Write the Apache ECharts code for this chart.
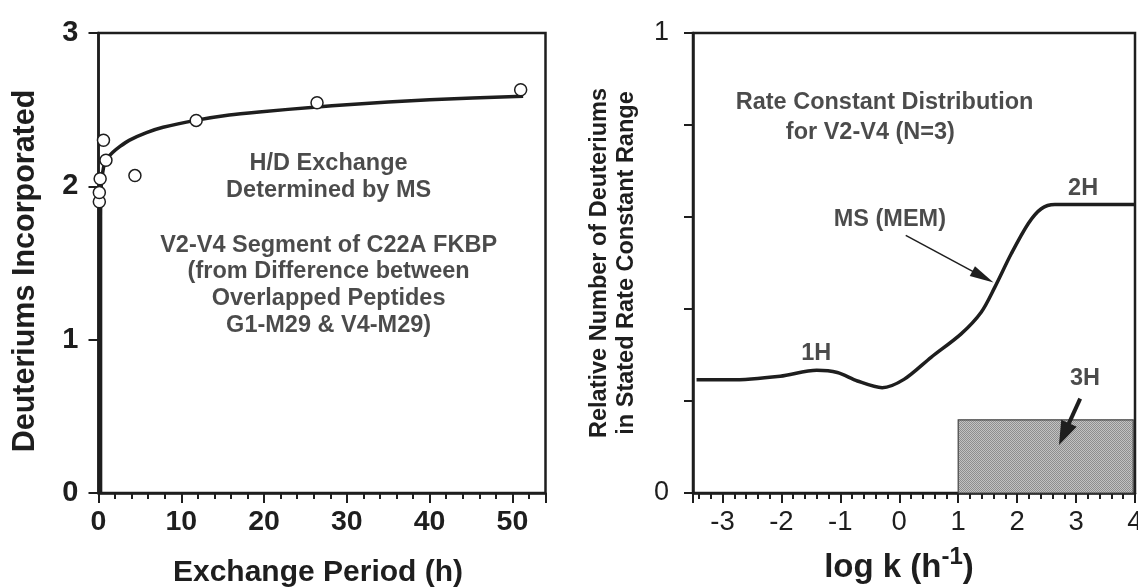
<!DOCTYPE html>
<html>
<head>
<meta charset="utf-8">
<title>H/D exchange of V2-V4 segment</title>
<script src="https://cdn.jsdelivr.net/npm/echarts@6/dist/echarts.min.js"></script>
<style>
  html, body { margin: 0; padding: 0; background: #fff; }
  #main { width: 1138px; height: 587px; }
</style>
</head>
<body>
<div id="main"></div>
<script>
// ---- left panel: deuteriums incorporated vs exchange period ----
const exchangeHours = [0.1, 0.1, 0.2, 0.9, 0.6, 4.4, 11.8, 26.4, 51.0];
const deuteriumsFound = [1.90, 1.96, 2.05, 2.17, 2.30, 2.07, 2.43, 2.545, 2.63];
const fitHours = [0.25, 0.25, 0.35, 0.6, 0.9, 1.7, 2.6, 3.7, 5.8, 7.8, 11.7, 15.8, 19.4, 26.4, 30, 40, 51.3];
const fitDeuteriums = [0, 1.8, 2.02, 2.12, 2.17, 2.22, 2.26, 2.30, 2.35, 2.385, 2.43, 2.465, 2.485, 2.518, 2.532, 2.565, 2.588];
const leftXTicks = [0, 10, 20, 30, 40, 50];
const leftYTicks = [0, 1, 2, 3];

// ---- right panel: rate constant distribution (MEM) ----
const logK = [-3.44, -2.87, -2.02, -1.40, -1.05, -0.71, -0.29, 0.08, 0.54, 1.05, 1.39, 1.62, 1.90, 2.19, 2.41, 2.64, 3.2, 4.0];
const relDeuteriums = [0.246, 0.246, 0.254, 0.267, 0.262, 0.2435, 0.229, 0.247, 0.295, 0.346, 0.393, 0.447, 0.520, 0.586, 0.618, 0.627, 0.627, 0.627];
const block3H = [1.0, 3.97, 0.159];   // [log k from, log k to, height]
const rightXTicks = [-3, -2, -1, 0, 1, 2, 3, 4];
const rightYTicks = [0, 1];

// annotations (data coordinates)
const leftNotes = [
  [27.8, 2.06, 'H/D Exchange\nDetermined by MS'],
  [27.8, 1.356, 'V2-V4 Segment of C22A FKBP\n(from Difference between\nOverlapped Peptides\nG1-M29 & V4-M29)']
];
const rightNotes = [
  [-0.25, 0.848, 'Rate Constant Distribution'],
  [-0.49, 0.783, 'for V2-V4 (N=3)'],
  [-0.16, 0.594, 'MS (MEM)'],
  [3.12, 0.662, '2H'],
  [-1.41, 0.303, '1H'],
  [3.15, 0.248, '3H']
];
// arrow ends are the centres of the arrow heads
const arrowMS = [[0.11, 0.56], [1.42, 0.470]];
const arrow3H = [[3.07, 0.205], [2.795, 0.128]];

const ink = '#1e1e1e';
const font = "'Liberation Sans', Arial, Helvetica, sans-serif";

const chart = echarts.init(document.getElementById('main'), null, { renderer: 'canvas' });

// fine dithered grey, like the printed shading of the 3H block
function shadePattern() {
  const c = document.createElement('canvas');
  c.width = 2; c.height = 2;
  const g = c.getContext('2d');
  g.fillStyle = '#c2c2c2'; g.fillRect(0, 0, 2, 2);
  g.fillStyle = '#8e8e8e'; g.fillRect(0, 0, 1, 1); g.fillRect(1, 1, 1, 1);
  return { image: c, repeat: 'repeat' };
}
const shade = shadePattern();

function pairs(xs, ys) {
  return xs.map(function (x, i) { return [x, ys[i]]; });
}

function noteSeries(notes, xi, yi) {
  return {
    type: 'scatter',
    xAxisIndex: xi,
    yAxisIndex: yi,
    data: notes,
    symbolSize: 1,
    itemStyle: { color: 'transparent' },
    silent: true,
    z: 5,
    label: {
      show: true,
      position: 'inside',
      formatter: function (p) { return p.data[2]; },
      color: ink,
      fontFamily: font,
      fontSize: 23.5,
      fontWeight: 'bold',
      lineHeight: 26.7,
      align: 'center'
    }
  };
}

function arrowLine(from, to, width, head) {
  return {
    silent: true,
    symbol: ['none', 'triangle'],
    label: { show: false },
    lineStyle: { color: ink, width: width, type: 'solid', opacity: 1 },
    itemStyle: { color: ink },
    data: [[
      { coord: from, symbol: 'none' },
      { coord: to, symbol: 'triangle', symbolSize: head }
    ]]
  };
}

const axisLine = { show: true, onZero: false, lineStyle: { color: ink, width: 2.5 } };

const option = {
  animation: false,
  backgroundColor: '#fff',
  textStyle: { fontFamily: font, color: ink },
  grid: [
    { left: 98.5, right: 592.5, top: 33, bottom: 94, show: true, borderColor: ink, borderWidth: 2.5, outerBoundsMode: 'none' },
    { left: 693, right: 3, top: 33, bottom: 94, show: true, borderColor: ink, borderWidth: 2.5, outerBoundsMode: 'none' }
  ],
  xAxis: [
    {
      gridIndex: 0, type: 'value', min: 0, max: 54, interval: 10, position: 'bottom',
      axisLine: axisLine,
      axisTick: { show: true, length: 10, lineStyle: { color: ink, width: 2 } },
      axisLabel: {
        formatter: function (v) { return leftXTicks.indexOf(v) >= 0 ? String(v) : ''; },
        fontSize: 28.5, fontWeight: 'bold', color: ink, margin: 15
      },
      splitLine: { show: false },
      name: 'Exchange Period (h)', nameLocation: 'middle', nameGap: 65,
      nameTextStyle: { fontSize: 30, fontWeight: 'bold', color: ink, padding: [0, 8, 0, 0] }
    },
    {
      gridIndex: 0, type: 'value', min: 0, max: 54, interval: 2, position: 'bottom',
      axisLine: { show: false },
      axisTick: { show: true, length: 6, lineStyle: { color: ink, width: 2 } },
      axisLabel: { show: false },
      splitLine: { show: false }
    },
    {
      gridIndex: 1, type: 'value', min: -3.5, max: 4, splitNumber: 7, position: 'bottom',
      axisLine: axisLine,
      axisTick: { show: true, length: 10, lineStyle: { color: ink, width: 2 } },
      axisLabel: {
        formatter: function (v) { return rightXTicks.indexOf(v) >= 0 ? String(v) : ''; },
        fontSize: 27.5, color: ink, margin: 15
      },
      splitLine: { show: false },
      name: 'log k (h{sup|-1})', nameLocation: 'middle', nameGap: 52,
      nameTextStyle: {
        fontSize: 33, fontWeight: 'bold', color: ink, padding: [0, 30, 0, 0],
        rich: { sup: { fontSize: 24, fontWeight: 'bold', color: ink, padding: [0, 0, 22, 0] } }
      }
    },
    {
      gridIndex: 1, type: 'value', min: -3.5, max: 4, splitNumber: 37, position: 'bottom',
      axisLine: { show: false },
      axisTick: { show: true, length: 6, lineStyle: { color: ink, width: 2 } },
      axisLabel: { show: false },
      splitLine: { show: false }
    }
  ],
  yAxis: [
    {
      gridIndex: 0, type: 'value', min: 0, max: 3, interval: 1,
      axisLine: axisLine,
      axisTick: { show: true, length: 10, lineStyle: { color: ink, width: 2 } },
      axisLabel: {
        formatter: function (v) { return leftYTicks.indexOf(v) >= 0 ? String(v) : ''; },
        fontSize: 29, fontWeight: 'bold', color: ink, margin: 20
      },
      splitLine: { show: false },
      name: 'Deuteriums Incorporated', nameLocation: 'middle', nameGap: 57,
      nameTextStyle: { fontSize: 30.5, fontWeight: 'bold', color: ink, padding: [0, 16, 0, 0] }
    },
    {
      gridIndex: 1, type: 'value', min: 0, max: 1, interval: 0.2,
      axisLine: axisLine,
      axisTick: { show: true, length: 9, lineStyle: { color: ink, width: 2 } },
      axisLabel: {
        formatter: function (v) { return rightYTicks.indexOf(v) >= 0 ? String(v) : ''; },
        fontSize: 27, color: ink, margin: 24
      },
      splitLine: { show: false },
      name: 'Relative Number of Deuteriums\nin Stated Rate Constant Range',
      nameLocation: 'middle', nameGap: 53,
      nameTextStyle: { fontSize: 23.5, fontWeight: 'bold', color: ink, lineHeight: 27 }
    }
  ],
  series: [
    {
      name: 'fit',
      type: 'line',
      xAxisIndex: 0, yAxisIndex: 0,
      data: pairs(fitHours, fitDeuteriums),
      smooth: 0.25,
      showSymbol: false,
      lineStyle: { color: ink, width: 3.5 },
      z: 3
    },
    {
      name: 'MS',
      type: 'scatter',
      xAxisIndex: 0, yAxisIndex: 0,
      data: pairs(exchangeHours, deuteriumsFound),
      symbol: 'circle',
      symbolSize: 12,
      itemStyle: { color: '#fff', borderColor: ink, borderWidth: 1.5, opacity: 1 },
      z: 4
    },
    noteSeries(leftNotes, 0, 0),
    {
      name: 'MS (MEM)',
      type: 'line',
      xAxisIndex: 2, yAxisIndex: 1,
      data: pairs(logK, relDeuteriums),
      smooth: 0.3,
      showSymbol: false,
      lineStyle: { color: ink, width: 3.5 },
      z: 3,
      markLine: arrowLine(arrowMS[0], arrowMS[1], 1.5, [11, 24])
    },
    {
      name: '3H',
      type: 'custom',
      xAxisIndex: 2, yAxisIndex: 1,
      data: [block3H],
      encode: { x: [0, 1], y: 2 },
      renderItem: function (params, api) {
        const p0 = api.coord([api.value(0), 0]);
        const p1 = api.coord([api.value(1), api.value(2)]);
        return {
          type: 'rect',
          shape: { x: p0[0], y: p1[1], width: p1[0] - p0[0], height: p0[1] - p1[1] },
          style: { fill: shade, stroke: '#444', lineWidth: 1.2 }
        };
      },
      z: 2,
      markLine: arrowLine(arrow3H[0], arrow3H[1], 4, [17, 24])
    },
    noteSeries(rightNotes, 2, 1)
  ]
};

chart.setOption(option);
</script>
</body>
</html>
